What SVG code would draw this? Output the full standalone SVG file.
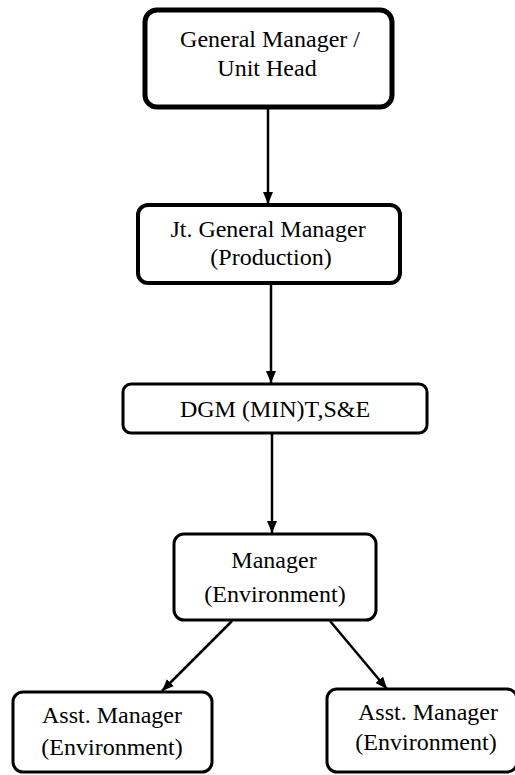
<svg xmlns="http://www.w3.org/2000/svg" width="515" height="775" viewBox="0 0 515 775">
<style>
.box{fill:#fff;stroke:#000;stroke-width:3}
.t{font-family:"Liberation Serif","Times New Roman",serif;font-size:24px;fill:#000;text-anchor:middle}
.c{stroke:#000;stroke-width:2.5;fill:none;marker-end:url(#ah)}
</style>
<defs>
<marker id="ah" viewBox="0 0 12 10" refX="12" refY="5" markerWidth="12" markerHeight="10" markerUnits="userSpaceOnUse" orient="auto">
<path d="M0,0 L12,5 L0,10 Z" fill="#000"/>
</marker>
</defs>
<rect width="515" height="775" fill="#fff"/>
<g id="connectors">
<line class="c" x1="268" y1="108" x2="268" y2="204"/>
<line class="c" x1="271" y1="284" x2="271" y2="383"/>
<line class="c" x1="272" y1="433" x2="272" y2="533"/>
<line class="c" x1="232" y1="621" x2="162" y2="691"/>
<line class="c" x1="330" y1="621" x2="387" y2="689"/>
</g>
<g id="gm">
<rect class="box" x="145" y="10" width="247" height="97" rx="12" style="stroke-width:5"/>
<text class="t" x="270" y="47">General Manager /</text>
<text class="t" x="267" y="76">Unit Head</text>
</g>
<g id="jgm">
<rect class="box" x="138" y="205" width="262" height="78" rx="10" style="stroke-width:4"/>
<text class="t" x="268" y="237">Jt. General Manager</text>
<text class="t" x="271" y="265">(Production)</text>
</g>
<g id="dgm">
<rect class="box" x="123" y="384" width="304" height="49" rx="8"/>
<text class="t" x="275" y="417">DGM (MIN)T,S&amp;E</text>
</g>
<g id="mgr">
<rect class="box" x="174" y="534" width="202" height="86" rx="10"/>
<text class="t" x="274" y="568">Manager</text>
<text class="t" x="275" y="602">(Environment)</text>
</g>
<g id="am1">
<rect class="box" x="13" y="692" width="199" height="80" rx="10"/>
<text class="t" x="112" y="723">Asst. Manager</text>
<text class="t" x="112" y="755">(Environment)</text>
</g>
<g id="am2">
<rect class="box" x="327" y="689" width="190" height="83" rx="10"/>
<text class="t" x="428" y="720">Asst. Manager</text>
<text class="t" x="426" y="750">(Environment)</text>
</g>
</svg>
